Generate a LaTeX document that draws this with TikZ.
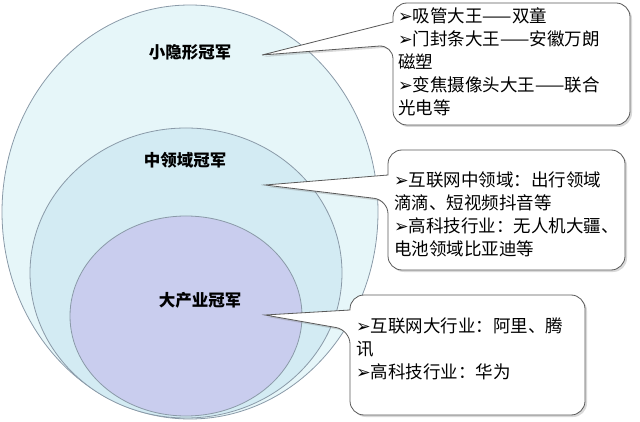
\documentclass[tikz,border=0pt]{standalone}
\usepackage{fontspec}
\newfontfamily\cjk{Noto Sans CJK SC}
\newfontfamily\symfont{DejaVu Sans}
\newcommand{\pt}{{\symfont ➢}}
\usetikzlibrary{shadows}
\definecolor{outerc}{HTML}{E6F6F9}
\definecolor{midc}{HTML}{D3EBF3}
\definecolor{innerc}{HTML}{C9CDEE}
\definecolor{edgec}{HTML}{8A9AA8}
\tikzset{
  ring/.style={draw=edgec,line width=0.8pt},
  champ/.style={font=\cjk\bfseries\fontsize{16.5}{18}\selectfont},
  callout/.style={draw=gray!70!black,fill=white,line width=0.8pt,rounded corners=14pt,drop shadow={opacity=0.3,shadow xshift=2pt,shadow yshift=-2pt}},
  note/.style={font=\cjk\fontsize{17.5}{23}\selectfont,align=left,inner sep=0pt,anchor=north west}
}
\begin{document}
\begin{tikzpicture}[x=1pt,y=-1pt]
\useasboundingbox (0,0) rectangle (640,422);
% circles
\fill[outerc,ring] (190,212) ellipse [x radius=188,y radius=207];
\fill[midc,ring] (186,273) ellipse [x radius=156,y radius=145];
\fill[innerc,ring] (186,316) ellipse [x radius=116,y radius=100];
\node[champ] (small) at (190,52) {小隐形冠军};
\node[champ] (mid) at (185,160) {中领域冠军};
\node[champ] (big) at (200,300) {大产业冠军};
% callouts
\draw[callout] (393,45) [sharp corners]-- (262,55) -- (393,22) [rounded corners=14pt]-- (393,3) -- (630,3) -- (630,125) -- (393,125) -- cycle;
\draw[callout] (388,200) [sharp corners]-- (265,185) -- (388,175) [rounded corners=14pt]-- (388,150) -- (625,150) -- (625,270) -- (388,270) -- cycle;
\draw[callout] (350,330) [sharp corners]-- (265,315) -- (350,310) [rounded corners=14pt]-- (350,295) -- (585,295) -- (585,415) -- (350,415) -- cycle;
\node[note] (n1) at (398,7) {\pt 吸管大王——双童\\\pt 门封条大王——安徽万朗\\磁塑\\\pt 变焦摄像头大王——联合\\光电等};
\node[note] (n2) at (394,172) {\pt 互联网中领域：出行领域\\滴滴、短视频抖音等\\\pt 高科技行业：无人机大疆、\\电池领域比亚迪等};
\node[note] (n3) at (356,318) {\pt 互联网大行业：阿里、腾\\讯\\\pt 高科技行业：华为};
\end{tikzpicture}
\end{document}
